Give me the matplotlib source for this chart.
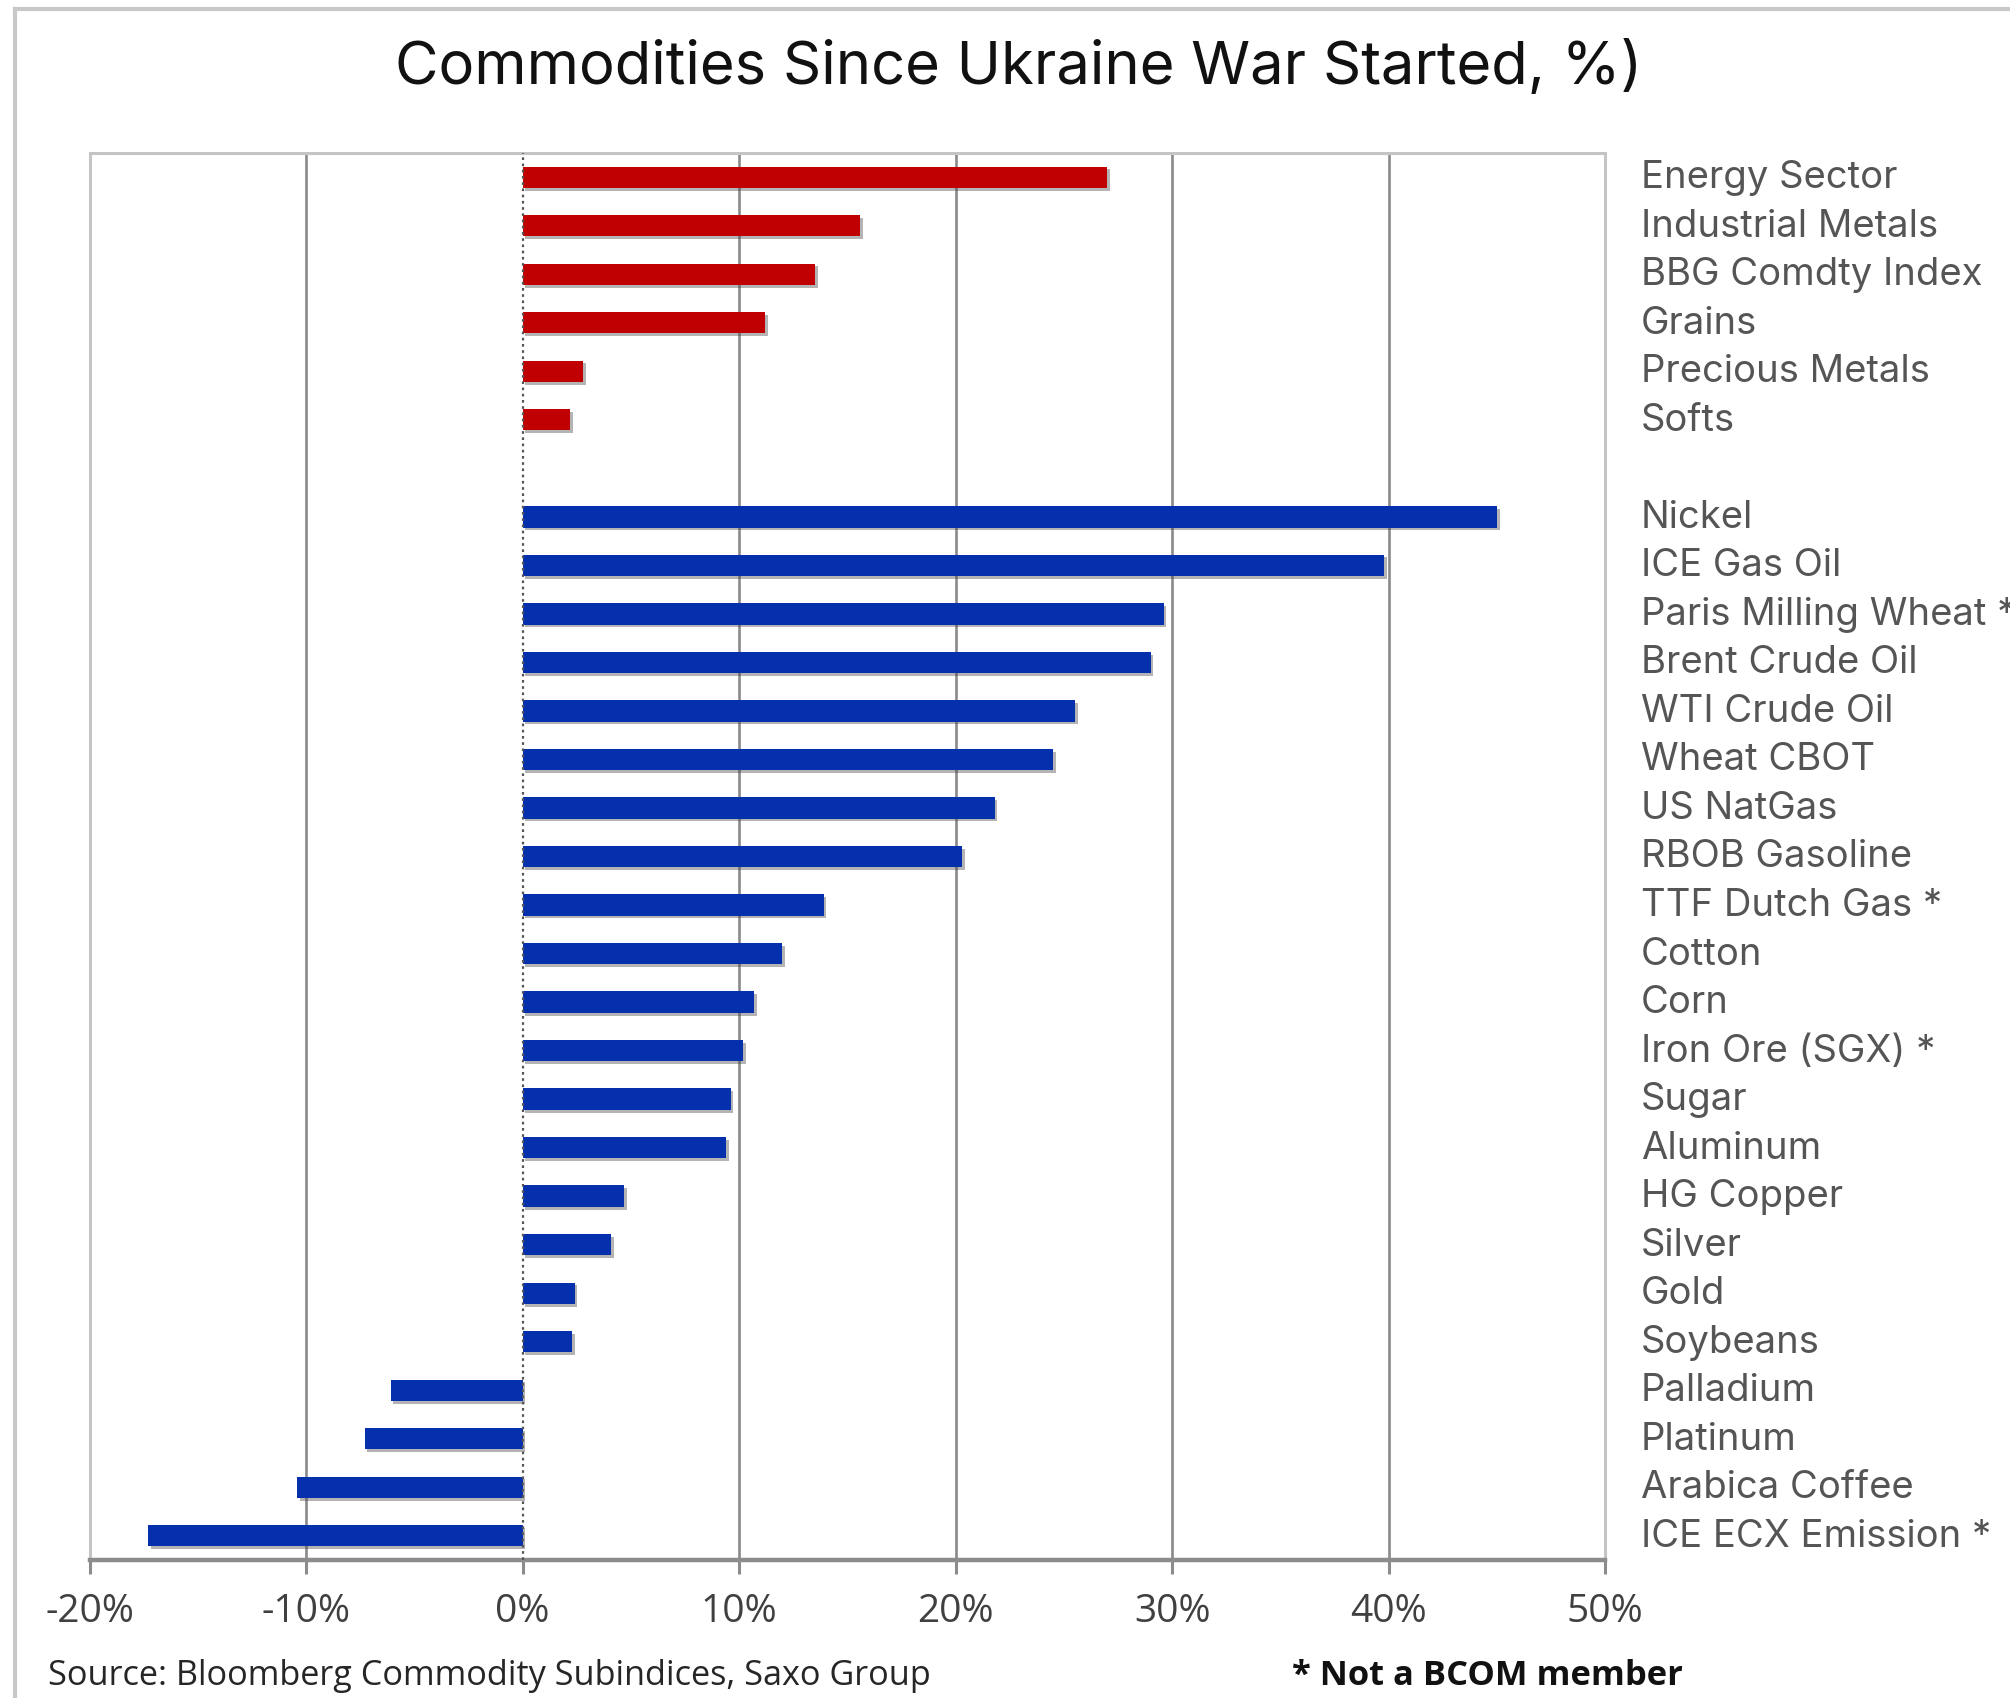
import matplotlib
matplotlib.use("Agg")
import matplotlib.pyplot as plt
import matplotlib.patheffects as pe
from matplotlib.lines import Line2D
import numpy as np

# sector / index level
sector_names = ["Energy Sector", "Industrial Metals", "BBG Comdty Index",
                "Grains", "Precious Metals", "Softs"]
sector_vals = [27.0, 15.6, 13.5, 11.2, 2.8, 2.2]

# single commodities
comm_names = ["Nickel", "ICE Gas Oil", "Paris Milling Wheat *", "Brent Crude Oil",
              "WTI Crude Oil", "Wheat CBOT", "US NatGas", "RBOB Gasoline",
              "TTF Dutch Gas *", "Cotton", "Corn", "Iron Ore (SGX) *", "Sugar",
              "Aluminum", "HG Copper", "Silver", "Gold", "Soybeans", "Palladium",
              "Platinum", "Arabica Coffee", "ICE ECX Emission *"]
comm_vals = [45.0, 39.8, 29.6, 29.0, 25.5, 24.5, 21.8, 20.3, 13.9, 12.0, 10.7,
             10.2, 9.6, 9.4, 4.7, 4.1, 2.4, 2.3, -6.1, -7.3, -10.4, -17.3]

x_ticks = [-20, -10, 0, 10, 20, 30, 40, 50]

RED = "#C00000"
BLUE = "#0530AD"

fig = plt.figure(figsize=(20.10, 16.99), dpi=100)
ax = fig.add_axes([0.0446, 0.0812, 0.754, 0.8282])

# positions: sectors, one empty slot, then commodities
pos_s = np.arange(len(sector_names))
pos_c = np.arange(len(comm_names)) + len(sector_names) + 1
n_slots = len(sector_names) + 1 + len(comm_names)

for t in [-10, 10, 20, 30, 40]:
    ax.axvline(t, color="#8a8a8a", lw=1.9, zorder=1)
ax.axvline(0, color="#555555", lw=1.6, ls=(0, (1.2, 1.6)), zorder=3)

shadow = [pe.SimplePatchShadow(offset=(2, -2), shadow_rgbFace="#444444", alpha=0.4),
          pe.Normal()]
bs = ax.barh(pos_s, sector_vals, height=0.44, color=RED, zorder=2)
bc = ax.barh(pos_c, comm_vals, height=0.44, color=BLUE, zorder=2)
for b in list(bs) + list(bc):
    b.set_path_effects(shadow)

ax.set_xlim(-20, 50)
ax.set_ylim(n_slots - 0.5, -0.5)
ax.set_yticks([])
ax.set_xticks(x_ticks)
ax.set_xticklabels([f"{t}%" for t in x_ticks], fontfamily="Open Sans",
                   fontsize=28, color="#404040")
ax.tick_params(axis="x", direction="out", length=10, width=2.2,
               color="#8c8c8c", pad=13)

for side in ["top", "left", "right"]:
    ax.spines[side].set_color("#c4c4c4")
    ax.spines[side].set_linewidth(2.2)
ax.spines["bottom"].set_color("#8c8c8c")
ax.spines["bottom"].set_linewidth(3.2)

# category labels on the right
for p, name in zip(list(pos_s) + list(pos_c), sector_names + comm_names):
    ax.text(1.0235, p, name, transform=ax.get_yaxis_transform(),
            ha="left", va="center", fontfamily="Inter", fontsize=27.5,
            color="#555555", clip_on=False)

fig.text(0.507, 0.960, "Commodities Since Ukraine War Started, %)",
         ha="center", va="center", fontfamily="Inter", fontsize=43, color="#111111")

fig.text(0.024, 0.0135, "Source: Bloomberg Commodity Subindices, Saxo Group",
         ha="left", va="center", fontfamily="Open Sans", fontsize=24.7, color="#262626")
fig.text(0.643, 0.0135, "* Not a BCOM member", ha="left", va="center",
         fontfamily="Open Sans", fontweight="bold", fontsize=24.8, color="#111111")

# outer frame of the screenshot
fig.add_artist(Line2D([0.0075, 1.0], [0.994, 0.994], color="#c8c8c8", lw=3,
                      transform=fig.transFigure))
fig.add_artist(Line2D([0.0075, 0.0075], [0.0, 0.994], color="#c8c8c8", lw=3,
                      transform=fig.transFigure))

fig.savefig("out.png", dpi=100, facecolor="white")
